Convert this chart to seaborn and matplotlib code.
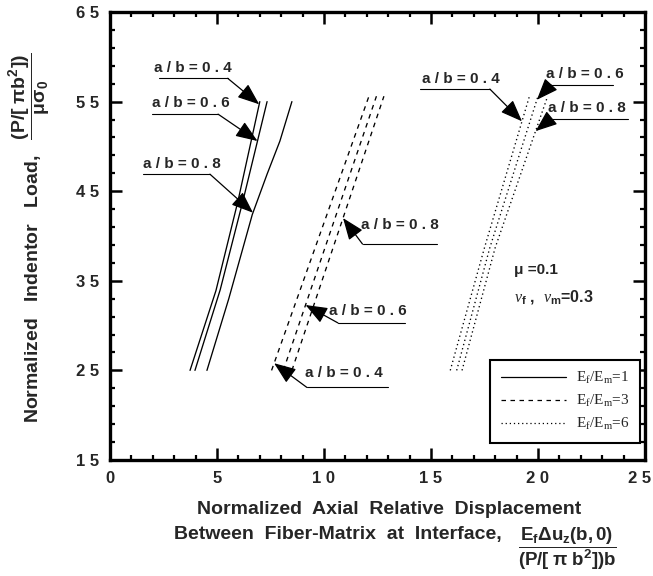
import numpy as np
import pandas as pd
import matplotlib
matplotlib.use("Agg")
import matplotlib.pyplot as plt
import matplotlib.transforms as mtransforms
import seaborn as sns
from matplotlib.lines import Line2D
from matplotlib.ticker import FixedLocator, MultipleLocator

# ---- data: normalized indentor load vs. normalized relative displacement ----
ab_values = ["0.4", "0.6", "0.8"]
modulus_ratios = ["1", "3", "6"]

# E_f/E_m = 1
load_e1_a04 = [25.0, 33.9, 43.9, 55.0]
disp_e1_a04 = [3.74, 4.95, 5.98, 7.00]
load_e1_a06 = [25.0, 34.0, 44.0, 55.0]
disp_e1_a06 = [3.97, 5.15, 6.22, 7.34]
load_e1_a08 = [25.0, 33.0, 42.4, 46.9, 50.6, 55.0]
disp_e1_a08 = [4.53, 5.55, 6.65, 7.34, 7.94, 8.50]

# E_f/E_m = 3
load_e3_a04 = [25.0, 55.6]
disp_e3_a04 = [7.55, 12.10]
load_e3_a06 = [25.0, 55.6]
disp_e3_a06 = [8.10, 12.45]
load_e3_a08 = [25.0, 55.6]
disp_e3_a08 = [8.50, 12.80]

# E_f/E_m = 6
load_e6_a04 = [25.0, 38.7, 55.6]
disp_e6_a04 = [15.90, 17.50, 19.60]
load_e6_a06 = [25.0, 38.7, 55.6]
disp_e6_a06 = [16.20, 17.75, 20.00]
load_e6_a08 = [25.0, 38.7, 55.6]
disp_e6_a08 = [16.45, 18.00, 20.45]

x_tick_values = [0, 5, 10, 15, 20, 25]
x_tick_labels = ["0", "5", "1 0", "1 5", "2 0", "2 5"]
y_tick_values = [15, 25, 35, 45, 55, 65]
y_tick_labels = ["1 5", "2 5", "3 5", "4 5", "5 5", "6 5"]

series = {
    ("1", "0.4"): (disp_e1_a04, load_e1_a04),
    ("1", "0.6"): (disp_e1_a06, load_e1_a06),
    ("1", "0.8"): (disp_e1_a08, load_e1_a08),
    ("3", "0.4"): (disp_e3_a04, load_e3_a04),
    ("3", "0.6"): (disp_e3_a06, load_e3_a06),
    ("3", "0.8"): (disp_e3_a08, load_e3_a08),
    ("6", "0.4"): (disp_e6_a04, load_e6_a04),
    ("6", "0.6"): (disp_e6_a06, load_e6_a06),
    ("6", "0.8"): (disp_e6_a08, load_e6_a08),
}

rows = []
for (ratio, ab), (xs, ys) in series.items():
    for i, (xv, yv) in enumerate(zip(xs, ys)):
        rows.append({"disp": xv, "load": yv, "ratio": ratio,
                     "curve": f"{ratio}-{ab}", "order": i})
df = pd.DataFrame(rows)

# ---- style ----
sns.set_style("ticks")
plt.rcParams["font.family"] = ["Liberation Sans", "DejaVu Sans"]
plt.rcParams["mathtext.fontset"] = "custom"
plt.rcParams["mathtext.rm"] = "Liberation Serif"
plt.rcParams["mathtext.it"] = "Liberation Serif:italic"
plt.rcParams["mathtext.bf"] = "Liberation Sans:bold"
plt.rcParams["mathtext.sf"] = "Liberation Sans"

dash_styles = {"1": "", "3": (3.6, 3.6), "6": (1.0, 2.3)}

fig = plt.figure(figsize=(6.53, 5.76), dpi=100)
ax = fig.add_axes([110 / 653, 116 / 576, 535 / 653, 448 / 576])

sns.lineplot(data=df, x="disp", y="load", style="ratio", units="curve",
             estimator=None, sort=False, dashes=dash_styles, color="black",
             linewidth=0.95, legend=False, ax=ax)

ax.set_xlim(0, 25)
ax.set_ylim(15, 65)
ax.set_xlabel("")
ax.set_ylabel("")

ax.xaxis.set_major_locator(FixedLocator(x_tick_values))
ax.set_xticklabels(x_tick_labels)
ax.xaxis.set_minor_locator(MultipleLocator(1))
ax.yaxis.set_major_locator(FixedLocator(y_tick_values))
ax.set_yticklabels(y_tick_labels)
ax.yaxis.set_minor_locator(FixedLocator(np.arange(17, 65, 2)))

ax.tick_params(which="both", direction="in", top=True, right=True,
               labeltop=False, labelright=False, color="black")
ax.tick_params(which="major", length=8.5, width=1.8, pad=8,
               labelsize=12)
ax.tick_params(which="minor", length=3.8, width=1.6)
for lab in ax.get_xticklabels() + ax.get_yticklabels():
    lab.set_fontweight("bold")
# keep the last x tick label inside the canvas
last = ax.get_xticklabels()[-1]
last.set_transform(last.get_transform() +
                   mtransforms.ScaledTranslation(-5 / 100, 0, fig.dpi_scale_trans))
for sp in ax.spines.values():
    sp.set_visible(True)
    sp.set_linewidth(2.4)
    sp.set_color("black")


# ---- callouts ----
def callout(label, xs, ys, tip_load, text_xy, under_x, under_y, corner):
    tip = (np.interp(tip_load, ys, xs), tip_load)
    ax.text(text_xy[0], text_xy[1], label, ha="center", va="center",
            fontsize=11, fontweight="bold")
    ax.plot(under_x, [under_y, under_y], color="black", lw=0.8)
    start = (under_x[1] if corner == "right" else under_x[0], under_y)
    ax.annotate("", xy=tip, xytext=start,
                arrowprops=dict(arrowstyle="-|>,head_length=0.9,head_width=0.35",
                                color="black", lw=0.9, shrinkA=0, shrinkB=0,
                                mutation_scale=15))


def spaced(ab):
    return "a / b = " + " . ".join(ab.split("."))


callout(spaced("0.4"), disp_e1_a04, load_e1_a04, 54.7, (3.88, 58.7), [2.3, 5.5], 57.6, "right")
callout(spaced("0.6"), disp_e1_a06, load_e1_a06, 50.6, (3.79, 54.8), [1.96, 5.05], 53.6, "right")
callout(spaced("0.8"), disp_e1_a08, load_e1_a08, 42.6, (3.36, 48.0), [1.54, 4.67], 46.9, "right")

callout(spaced("0.8"), disp_e3_a08, load_e3_a08, 42.0, (13.55, 41.2), [11.8, 15.3], 39.1, "left")
callout(spaced("0.6"), disp_e3_a06, load_e3_a06, 32.3, (12.06, 31.6), [10.65, 13.8], 30.3, "left")
callout(spaced("0.4"), disp_e3_a04, load_e3_a04, 25.8, (10.93, 24.7), [9.2, 13.0], 23.1, "left")

callout(spaced("0.4"), disp_e6_a04, load_e6_a04, 52.8, (16.4, 57.5), [14.5, 17.75], 56.4, "right")
callout(spaced("0.6"), disp_e6_a06, load_e6_a06, 55.2, (22.2, 58.1), [20.6, 23.5], 56.9, "left")
callout(spaced("0.8"), disp_e6_a08, load_e6_a08, 51.7, (22.3, 54.3), [20.6, 24.2], 53.1, "left")

# material parameters
ax.text(18.9, 36.2, "μ =0.1", ha="left", va="center", fontsize=11,
        fontweight="bold")
ax.text(18.9, 33.2, r"$\nu_{\mathbf{f}}$ ,  $\nu_{\mathbf{m}}$=0.3", ha="left",
        va="center", fontsize=11.5, fontweight="bold")

# ---- legend ----
handles = [Line2D([], [], color="black", lw=0.9, linestyle="-"),
           Line2D([], [], color="black", lw=0.9, dashes=dash_styles["3"]),
           Line2D([], [], color="black", lw=0.9, dashes=dash_styles["6"])]
labels = [r"E$_{\rm f}$/E$_{\rm m}$=" + r for r in modulus_ratios]
leg = ax.legend(handles, labels, loc="lower right", bbox_to_anchor=(0.99, 0.038),
                borderaxespad=0, frameon=True, fancybox=False, framealpha=1,
                edgecolor="black", handlelength=4.3, handletextpad=0.6,
                labelspacing=0.45, borderpad=0.7,
                prop={"family": "Liberation Serif", "size": 11})
leg.get_frame().set_linewidth(1.5)

# ---- axis titles ----
fig.text(29 / 653, 1 - 238 / 576,
         r"Normalized   Indentor   Load,   $\mathbf{\dfrac{(P/[\ \pi b^2])}{\mu\sigma_0}}$",
         rotation=90, ha="center", va="center", fontsize=14, fontweight="bold")
fig.text(389 / 653, 1 - 510 / 576, "Normalized  Axial  Relative  Displacement",
         ha="center", va="center", fontsize=14, fontweight="bold")
fig.text(502 / 653, 1 - 534 / 576, "Between  Fiber-Matrix  at  Interface,",
         ha="right", va="center", fontsize=14, fontweight="bold")
fig.text(567 / 653, 1 - 549 / 576,
         r"$\mathbf{\dfrac{E_f\Delta u_z(b,0)}{(P/[\ \pi\ b^2])b}}$",
         ha="center", va="center", fontsize=13.5, fontweight="bold")

fig.savefig("out.png", dpi=100)
